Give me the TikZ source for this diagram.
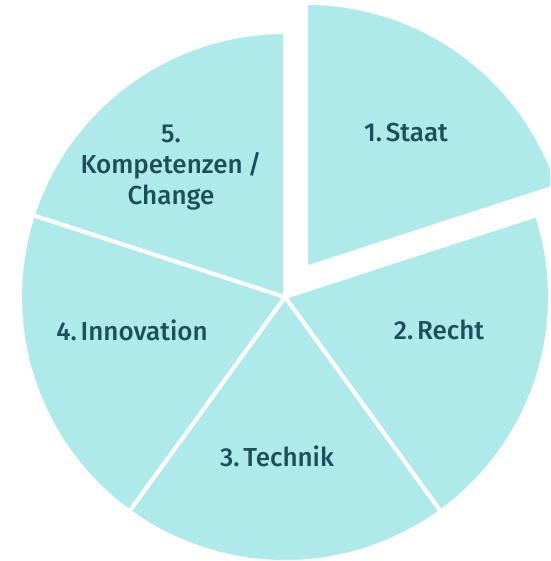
\documentclass[tikz,border=0pt]{standalone}
\usepackage{fontspec}
\setmainfont{Fira Sans Medium}
\usetikzlibrary{calc}
\definecolor{piefill}{HTML}{AFEAEB}
\definecolor{pietext}{HTML}{1D4F5B}
\begin{document}
\begin{tikzpicture}[x=1pt,y=1pt,
  slice/.style={fill=piefill,draw=white,line width=4pt,line join=round},
  lbl/.style={text=pietext,font=\fontsize{26}{31}\selectfont,align=center,inner sep=0pt}]
\useasboundingbox (0,0) rectangle (550,561);
\begin{scope}
\clip (0,0) rectangle (550,561);
\coordinate (c) at (285,264);
\coordinate (c1) at ($(c)+(54:36)$);
% slices 2..5
\draw[slice] (c) -- ++(-54:265) arc[start angle=-54,end angle=18,radius=265] -- cycle;
\draw[slice] (c) -- ++(234:265) arc[start angle=234,end angle=306,radius=265] -- cycle;
\draw[slice] (c) -- ++(162:265) arc[start angle=162,end angle=234,radius=265] -- cycle;
\draw[slice] (c) -- ++(90:265) arc[start angle=90,end angle=162,radius=265] -- cycle;
% exploded slice 1
\draw[slice] (c1) -- ++(18:265) arc[start angle=18,end angle=90,radius=265] -- cycle;
\end{scope}
\node[lbl] (s1) at (406,428) {1.\hspace{0.15em}Staat};
\node[lbl] (s2) at (439,231) {2.\hspace{0.15em}Recht};
\node[lbl] (s3) at (277,105) {3.\hspace{0.15em}Technik};
\node[lbl] (s4) at (132,231) {4.\hspace{0.15em}Innovation};
\node[lbl] (s5) at (171,393) {5.\\Kompetenzen\hspace{0.2em}/\\Change};
\end{tikzpicture}
\end{document}
